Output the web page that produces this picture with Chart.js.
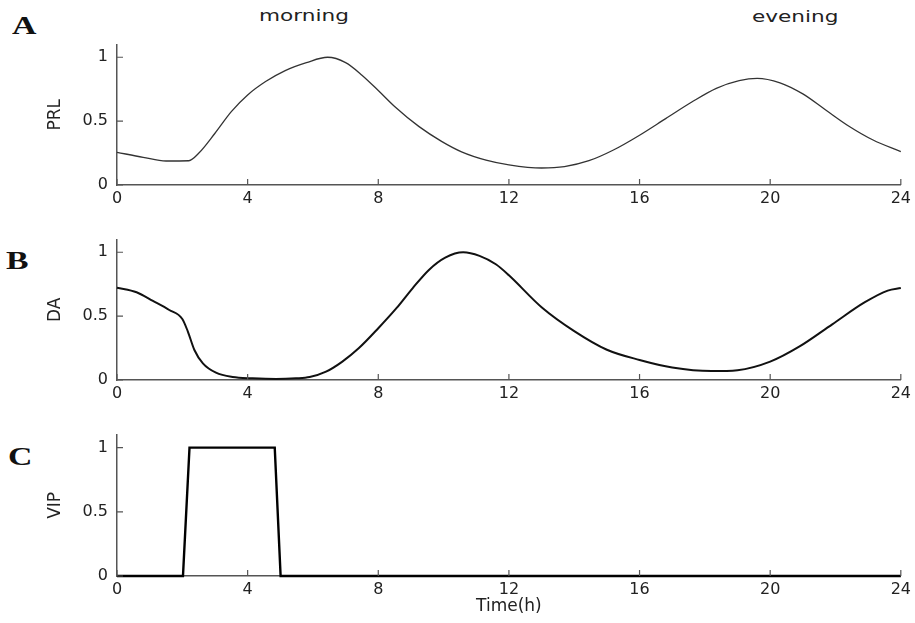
<!DOCTYPE html>
<html>
<head>
<meta charset="utf-8">
<script src="https://cdn.jsdelivr.net/npm/chart.js@4.4.1/dist/chart.umd.min.js"></script>
<style>
  html, body { margin: 0; padding: 0; background: #fff; }
  body { width: 915px; height: 623px; position: relative; overflow: hidden; }
  .panel { position: absolute; left: 0; width: 915px; }
  .letter { position: absolute; font-family: "Liberation Serif", "DejaVu Serif", serif; font-weight: bold;
            font-size: 26px; line-height: 26px; color: #111; transform: scaleX(1.3); transform-origin: left top; }
  .note { position: absolute; font-family: "DejaVu Sans", sans-serif; font-size: 16px; line-height: 16px;
          color: #222; transform: scaleX(1.35); transform-origin: left top; }
</style>
</head>
<body>
<div class="letter" style="left:12px;top:13px">A</div>
<div class="letter" style="left:6px;top:248px">B</div>
<div class="letter" style="left:8px;top:444px">C</div>
<div class="note" style="left:259px;top:8px">morning</div>
<div class="note" style="left:752px;top:9px">evening</div>

<div class="panel" style="top:0;height:215px"><canvas id="prl_chart"></canvas></div>
<div class="panel" style="top:215px;height:195px"><canvas id="da_chart"></canvas></div>
<div class="panel" style="top:410px;height:213px"><canvas id="vip_chart"></canvas></div>

<script>
// values (time in hours, normalised levels)
const prlTime = [0, 0.8, 1.5, 2.2, 2.5, 3.0, 3.5, 4.0, 4.55, 5.15, 5.8, 6.45, 7.0, 7.5, 8.0, 8.5, 9.25, 9.95,
                 10.55, 11.3, 12.0, 13.0, 13.7, 14.45, 15.2, 16.0, 16.8, 17.6, 18.35, 19.05, 19.6, 20.3,
                 21.0, 21.7, 22.4, 23.15, 24];
const prlLevel = [0.256, 0.217, 0.188, 0.19, 0.248, 0.405, 0.574, 0.705, 0.81, 0.896, 0.958, 1.0, 0.958, 0.86,
                  0.74, 0.615, 0.457, 0.34, 0.26, 0.195, 0.158, 0.133, 0.144, 0.19, 0.274, 0.39, 0.52,
                  0.65, 0.757, 0.817, 0.835, 0.80, 0.713, 0.587, 0.462, 0.352, 0.261];

const daTime = [0, 0.6, 1.1, 1.6, 2.0, 2.17, 2.37, 2.63, 3.03, 3.54, 4.15, 4.87, 5.48, 5.9, 6.4, 6.9, 7.4, 8.0,
                8.55, 9.05, 9.55, 10.05, 10.6, 11.1, 11.6, 12.0, 13.0, 14.0, 15.0, 16.0, 17.0, 18.2, 19.0, 20.0,
                20.9, 21.9, 22.9, 23.6, 24];
const daLevel = [0.723, 0.687, 0.619, 0.548, 0.478, 0.379, 0.235, 0.13, 0.057, 0.023, 0.013, 0.008, 0.013, 0.023,
                 0.065, 0.144, 0.248, 0.405, 0.56, 0.718, 0.862, 0.958, 1.0, 0.972, 0.906, 0.82, 0.57, 0.383,
                 0.237, 0.157, 0.098, 0.07, 0.077, 0.144, 0.263, 0.436, 0.609, 0.70, 0.72];

const vipTime = [0, 2.02, 2.22, 4.83, 5.01, 24];
const vipLevel = [0, 0, 1, 1, 0, 0];

const xTicks = [0, 4, 8, 12, 16, 20, 24];
const yTicks = [0, 0.5, 1];

const axisColor = '#555';
const textColor = '#222';

// MATLAB-style tick marks pointing into the plot
const innerTicks = {
    id: 'innerTicks',
    afterDraw(chart) {
        const ctx = chart.ctx;
        const area = chart.chartArea;
        const xs = chart.scales.x, ys = chart.scales.y;
        ctx.save();
        ctx.strokeStyle = axisColor;
        ctx.lineWidth = 1.2;
        ctx.beginPath();
        xs.ticks.forEach(t => {
            const px = xs.getPixelForValue(t.value);
            ctx.moveTo(px, area.bottom);
            ctx.lineTo(px, area.bottom - 6);
        });
        ys.ticks.forEach(t => {
            const py = ys.getPixelForValue(t.value);
            ctx.moveTo(area.left, py);
            ctx.lineTo(area.left + 6, py);
        });
        ctx.stroke();
        ctx.restore();
    }
};

function makePanel(id, times, levels, opts) {
    const ctx = document.getElementById(id).getContext('2d');
    return new Chart(ctx, {
        type: 'line',
        data: {
            datasets: [{
                data: times.map((t, i) => ({x: t, y: levels[i]})),
                borderColor: opts.color,
                borderWidth: opts.width,
                pointRadius: 0,
                fill: false,
                cubicInterpolationMode: opts.smooth ? 'monotone' : 'default',
                tension: 0,
                clip: 4
            }]
        },
        options: {
            responsive: true,
            maintainAspectRatio: false,
            animation: false,
            layout: { padding: { left: 0, right: 14, top: opts.top, bottom: 0 } },
            plugins: { legend: { display: false }, tooltip: { enabled: false } },
            scales: {
                x: {
                    type: 'linear',
                    min: 0,
                    max: 24,
                    afterBuildTicks: s => { s.ticks = xTicks.map(v => ({value: v})); },
                    afterFit: s => { s.height = opts.xHeight; },
                    grid: { display: true, drawOnChartArea: false, drawTicks: false },
                    border: { display: true, color: axisColor, width: 1.5 },
                    ticks: {
                        padding: 4,
                        color: textColor,
                        font: { family: 'DejaVu Sans', size: 16 },
                        maxRotation: 0,
                        callback: v => String(v)
                    },
                    title: opts.xTitle ? {
                        display: true,
                        text: opts.xTitle,
                        color: textColor,
                        font: { family: 'DejaVu Sans', size: 17 },
                        padding: { top: 0, bottom: 6 }
                    } : { display: false }
                },
                y: {
                    type: 'linear',
                    min: 0,
                    max: 1.1,
                    afterBuildTicks: s => { s.ticks = yTicks.map(v => ({value: v})); },
                    afterFit: s => { s.width = 117; },
                    grid: { display: true, drawOnChartArea: false, drawTicks: false },
                    border: { display: true, color: axisColor, width: 1.5 },
                    ticks: {
                        padding: 9,
                        color: textColor,
                        font: { family: 'DejaVu Sans', size: 16 },
                        callback: v => String(v)
                    },
                    title: {
                        display: true,
                        text: opts.yTitle,
                        color: textColor,
                        font: { family: 'DejaVu Sans', size: 17 },
                        padding: { top: 45, bottom: 0 }
                    }
                }
            }
        },
        plugins: [innerTicks]
    });
}

makePanel('prl_chart', prlTime, prlLevel, { color: '#333', width: 1.3, smooth: true, top: 44.5, xHeight: 30, yTitle: 'PRL' });
makePanel('da_chart', daTime, daLevel, { color: '#111', width: 2, smooth: true, top: 24.5, xHeight: 30, yTitle: 'DA' });
makePanel('vip_chart', vipTime, vipLevel, { color: '#000', width: 2.4, smooth: false, top: 24.8, xHeight: 47, yTitle: 'VIP', xTitle: 'Time(h)' });
</script>
</body>
</html>
